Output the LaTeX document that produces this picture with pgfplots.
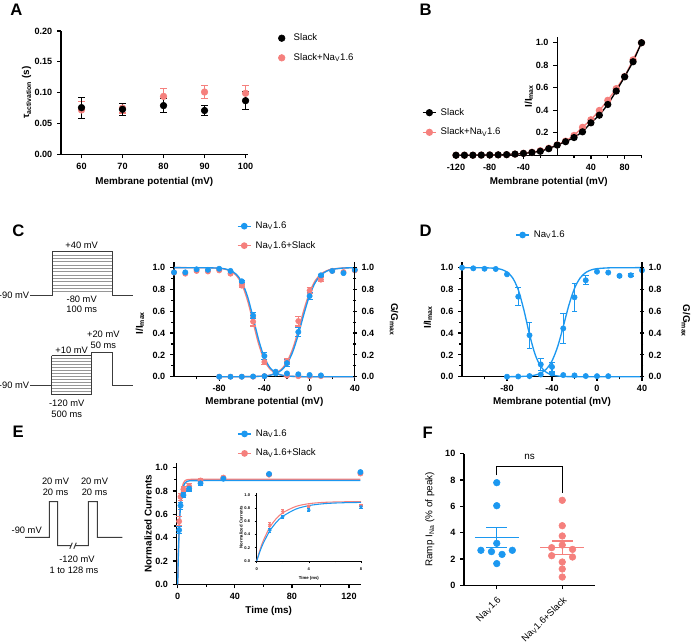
\documentclass[border=0pt]{standalone}
\usepackage{fontspec}
\setmainfont{Liberation Sans}
\usepackage{pgfplots}
\pgfplotsset{compat=1.18}
\definecolor{cblue}{RGB}{28,152,240}
\definecolor{cpink}{RGB}{245,128,125}
\definecolor{pgray}{RGB}{60,60,60}
\definecolor{lgray}{RGB}{150,150,150}
\newcommand{\tfont}{\bfseries\fontsize{6.8}{7.5}\selectfont}
\newcommand{\lfont}{\bfseries\fontsize{7.4}{8.5}\selectfont}
\newcommand{\gfont}{\fontsize{7.2}{8.5}\selectfont}
\newcommand{\pfont}{\fontsize{7}{8}\selectfont}
\newcommand{\ifont}{\bfseries\fontsize{3.2}{3.8}\selectfont}
\newcommand{\Nav}{Na\textsubscript{V}1.6}
\pgfplotsset{
  noarrow/.style={axis line style={-, line width=1pt, black},
    every inner x axis line/.append style={-},
    every inner y axis line/.append style={-},
    every outer x axis line/.append style={-},
    every outer y axis line/.append style={-}},
  gp/.style={scale only axis, clip=false, anchor=south west,
    axis x line=bottom, axis y line=left, noarrow,
    tick style={black, line width=0.9pt},
    tick align=outside, major tick length=3pt, minor tick length=2pt,
    tick label style={font=\tfont},
    label style={font=\lfont},
    /pgf/number format/assume math mode=true,
    legend style={draw=none, fill=none, inner sep=0pt, outer sep=0pt, font=\gfont,
      row sep=5pt, anchor=west, nodes={inner sep=1.5pt},
      /tikz/every odd column/.append style={column sep=1.5pt}},
    legend cell align=left,
    legend image code/.code={\draw[mark repeat=2,mark phase=2,##1] plot coordinates {(0pt,0pt) (5pt,0pt) (10pt,0pt)};},
  },
  xl/.style={every axis x label/.style={at={(axis description cs:0.5,#1)}, anchor=center, font=\lfont}},
  yl/.style 2 args={every axis y label/.style={at={(axis description cs:#1,#2)}, anchor=center, rotate=90, font=\lfont}},
  yr/.style 2 args={every axis y label/.style={at={(axis description cs:#1,#2)}, anchor=center, rotate=-90, font=\lfont}},
  eb/.style={error bars/y dir=both, error bars/y explicit, error bars/error bar style={line width=0.8pt, solid}, error bars/error mark options={rotate=90, mark size=#1, line width=0.8pt}},
  prec1/.style={yticklabel style={/pgf/number format/.cd, fixed, fixed zerofill, precision=1}},
  proto/.style={pgray, line width=0.75pt, unbounded coords=jump},
  protoin/.style={lgray, line width=0.5pt, unbounded coords=jump},
}
\begin{document}
\begin{tikzpicture}
% ---------- canvas for annotations (pixel coordinates) ----------
\begin{axis}[at={(0pt,0pt)}, anchor=north west, scale only axis, width=519pt, height=482.25pt,
  xmin=0, xmax=692, ymin=0, ymax=643, y dir=reverse, hide axis, clip=false]
% panel letters
\node[font=\bfseries\fontsize{12.5}{14}\selectfont] at (axis cs:16.5,9.5) {A};
\node[font=\bfseries\fontsize{12.5}{14}\selectfont] at (axis cs:425.7,9.5) {B};
\node[font=\bfseries\fontsize{12.5}{14}\selectfont] at (axis cs:18.3,231) {C};
\node[font=\bfseries\fontsize{12.5}{14}\selectfont] at (axis cs:425.7,231) {D};
\node[font=\bfseries\fontsize{12.5}{14}\selectfont] at (axis cs:18.3,431.5) {E};
\node[font=\bfseries\fontsize{12.5}{14}\selectfont] at (axis cs:427.8,433) {F};
% protocol C top
\addplot[protoin] coordinates {(52,291.67) (112,291.67) (nan,nan) (52,288.33) (112,288.33) (nan,nan) (52,285) (112,285) (nan,nan) (52,281.67) (112,281.67) (nan,nan) (52,278.33) (112,278.33) (nan,nan) (52,275) (112,275) (nan,nan) (52,271.67) (112,271.67) (nan,nan) (52,268.33) (112,268.33) (nan,nan) (52,265) (112,265) (nan,nan) (52,261.67) (112,261.67) (nan,nan) (52,258.33) (112,258.33) (nan,nan) (52,255) (112,255)};
\addplot[proto] coordinates {(30,295) (52,295) (52,251.67) (112,251.67) (112,295) (133,295)};
\node[font=\pfont, anchor=east, inner sep=0.5pt] at (axis cs:30,295) {-90 mV};
\node[font=\pfont, inner sep=0pt] at (axis cs:81.7,245.7) {+40 mV};
\node[font=\pfont, inner sep=0pt] at (axis cs:81.7,299.3) {-80 mV};
\node[font=\pfont, inner sep=0pt] at (axis cs:81.7,309.7) {100 ms};
% protocol C bottom
\addplot[protoin] coordinates {(51.7,391.7) (91.7,391.7) (nan,nan) (51.7,388.7) (91.7,388.7) (nan,nan) (51.7,385.7) (91.7,385.7) (nan,nan) (51.7,382.7) (91.7,382.7) (nan,nan) (51.7,379.7) (91.7,379.7) (nan,nan) (51.7,376.7) (91.7,376.7) (nan,nan) (51.7,373.7) (91.7,373.7) (nan,nan) (51.7,370.7) (91.7,370.7) (nan,nan) (51.7,367.7) (91.7,367.7) (nan,nan) (51.7,364.7) (91.7,364.7) (nan,nan) (51.7,361.7) (91.7,361.7) (nan,nan) (51.7,358.7) (91.7,358.7)};
\addplot[proto] coordinates {(30,385.7) (51.7,385.7) (nan,nan) (51.7,355.7) (51.7,394.7) (91.7,394.7) (nan,nan) (51.7,355.7) (91.7,355.7) (nan,nan) (91.7,394.7) (91.7,352.7) (112,352.7) (112,385.7) (133,385.7)};
\node[font=\pfont, anchor=east, inner sep=0.5pt] at (axis cs:30,385.7) {-90 mV};
\node[font=\pfont, inner sep=0pt] at (axis cs:71.7,350.2) {+10 mV};
\node[font=\pfont, inner sep=0pt] at (axis cs:103.3,334.3) {+20 mV};
\node[font=\pfont, inner sep=0pt] at (axis cs:103.3,345.7) {50 ms};
\node[font=\pfont, inner sep=0pt] at (axis cs:66.7,403.3) {-120 mV};
\node[font=\pfont, inner sep=0pt] at (axis cs:66.7,414.3) {500 ms};
% protocol E
\addplot[proto] coordinates {(25,537.3) (49.3,537.3) (49.3,501.7) (57.7,501.7) (57.7,545.7) (71.3,545.7) (nan,nan) (75.3,545.7) (88.3,545.7) (88.3,501.7) (97.3,501.7) (97.3,537.3) (122.3,537.3) (nan,nan) (69.8,548.7) (72.3,542.7) (nan,nan) (73.8,548.7) (76.3,542.7)};
\node[font=\pfont, inner sep=0pt] at (axis cs:55.5,481.7) {20 mV};
\node[font=\pfont, inner sep=0pt] at (axis cs:55.5,492.3) {20 ms};
\node[font=\pfont, inner sep=0pt] at (axis cs:94.5,481.7) {20 mV};
\node[font=\pfont, inner sep=0pt] at (axis cs:94.5,492.3) {20 ms};
\node[font=\pfont, inner sep=0pt] at (axis cs:26.7,530) {-90 mV};
\node[font=\pfont, inner sep=0pt] at (axis cs:77,559.3) {-120 mV};
\node[font=\pfont, inner sep=0pt] at (axis cs:74,570.7) {1 to 128 ms};
\end{axis}

% ---------- A ----------
\begin{axis}[gp, at={(45.75pt,-115.725pt)}, width=139.95pt, height=92.475pt,
  xmin=55, xmax=100.5, ymin=0, ymax=0.2,
  xtick={60,70,80,90,100}, ytick={0,0.05,0.1,0.15,0.2},
  yticklabel style={/pgf/number format/.cd, fixed, fixed zerofill, precision=2},
  xlabel={Membrane potential (mV)}, ylabel={τ\textsubscript{activation} (s)},
  xl=-0.222, yl={-0.184}{0.5},
  legend style={at={(axis description cs:1.165,0.862)}, /tikz/every odd column/.append style={column sep=5pt}}]
\addlegendimage{only marks, mark=*, black, mark size=2.5pt}
\addlegendentry{Slack}
\addlegendimage{only marks, mark=*, cpink, mark size=2.5pt}
\addlegendentry{Slack+\Nav}
\addplot[cpink, only marks, mark=*, mark size=2.5pt, eb=2.5pt, forget plot] coordinates {
 (60,0.072) +- (0,0.014) (70,0.075) +- (0,0.008) (80,0.094) +- (0,0.013) (90,0.101) +- (0,0.011) (100,0.099) +- (0,0.013)};
\addplot[black, only marks, mark=*, mark size=2.5pt, eb=2.5pt, forget plot] coordinates {
 (60,0.0757) +- (0,0.017) (70,0.073) +- (0,0.010) (80,0.079) +- (0,0.011) (90,0.071) +- (0,0.008) (100,0.087) +- (0,0.015)};
\end{axis}

% ---------- B ----------
\begin{axis}[gp, at={(342pt,-116.4pt)}, width=139.125pt, height=88.575pt,
  xmin=-120, xmax=100, ymin=0, ymax=1.05,
  axis y line=middle, noarrow, tick align=outside,
  xtick={-120,-80,-40,40,80}, minor xtick={-100,-60,-20,20,60,100},
  ytick={0.2,0.4,0.6,0.8,1}, prec1,
  xlabel={Membrane potential (mV)}, ylabel={I/I\textsubscript{max}},
  xl=-0.224, yl={0.3935}{0.501},
  legend style={at={(axis description cs:-0.183,0.277)}}]
\addlegendimage{black, mark=*, mark size=2.2pt, line width=1pt}
\addlegendentry{Slack}
\addlegendimage{cpink, mark=*, mark size=2.2pt, line width=1pt}
\addlegendentry{Slack+\Nav}
\addplot[cpink, mark=*, mark size=2.2pt, line width=1pt, forget plot] coordinates {
 (-120,0) (-110,0) (-100,0) (-90,0.001) (-80,0.002) (-70,0.003) (-60,0.005) (-50,0.01) (-40,0.017) (-30,0.026) (-20,0.04) (-10,0.062) (0,0.092) (10,0.125) (20,0.176) (30,0.248) (40,0.315) (50,0.398) (60,0.488) (70,0.592) (80,0.70) (90,0.848) (100,1.0)};
\addplot[black, mark=*, mark size=2.2pt, line width=1pt, forget plot] coordinates {
 (-120,0) (-110,0) (-100,0) (-90,0.001) (-80,0.002) (-70,0.003) (-60,0.005) (-50,0.01) (-40,0.016) (-30,0.024) (-20,0.035) (-10,0.058) (0,0.09) (10,0.12) (20,0.157) (30,0.208) (40,0.288) (50,0.356) (60,0.451) (70,0.570) (80,0.697) (90,0.831) (100,1.0)};
\end{axis}

% ---------- C ----------
\begin{axis}[gp, at={(130.5pt,-282.525pt)}, width=135.6pt, height=85.875pt,
  xmin=-120, xmax=40, ymin=0, ymax=1.05,
  xtick={-80,-40,0,40}, minor xtick={-100,-60,-20,20},
  ytick={0,0.2,0.4,0.6,0.8,1}, minor y tick num=1, prec1,
  xlabel={Membrane potential (mV)}, ylabel={I/I\textsubscript{max}},
  xl=-0.2236, yl={-0.188}{0.47},
  legend style={at={(axis description cs:0.348,1.229)}}]
\addlegendimage{cblue, mark=*, mark size=2pt, line width=1pt}
\addlegendentry{\Nav}
\addlegendimage{cpink, mark=*, mark size=2pt, line width=1pt}
\addlegendentry{\Nav+Slack}
\addplot[cpink, line width=1pt, smooth, forget plot] coordinates {(-120,1) (-100,0.9998) (-90,0.999) (-80,0.9942) (-75,0.9864) (-70,0.9687) (-65,0.9301) (-60,0.8499) (-55,0.7027) (-50,0.5) (-45,0.2973) (-40,0.1501) (-35,0.0699) (-30,0.0313) (-25,0.0136) (-20,0.0058) (-10,0.001) (0,0.0002) (40,0)};
\addplot[cpink, line width=1pt, smooth, forget plot] coordinates {(-80,0.0001) (-60,0.0003) (-50,0.0016) (-40,0.0072) (-35,0.0155) (-30,0.0328) (-25,0.0682) (-20,0.1364) (-15,0.2541) (-10,0.4237) (-5,0.6134) (0,0.774) (5,0.8808) (10,0.941) (15,0.9717) (20,0.9867) (30,0.9971) (40,0.9994)};
\addplot[cblue, line width=1pt, smooth, forget plot] coordinates {(-120,1) (-100,0.9997) (-90,0.9991) (-80,0.9953) (-75,0.9888) (-70,0.9739) (-65,0.9404) (-60,0.8695) (-55,0.7377) (-50,0.543) (-45,0.3341) (-40,0.1748) (-35,0.0821) (-30,0.0364) (-25,0.0157) (-20,0.0067) (-10,0.0012) (0,0.0002) (40,0)};
\addplot[cblue, line width=1pt, smooth, forget plot] coordinates {(-80,0.0001) (-60,0.0003) (-50,0.0013) (-40,0.0062) (-35,0.0133) (-30,0.0282) (-25,0.059) (-20,0.1192) (-15,0.226) (-10,0.3867) (-5,0.5763) (0,0.7459) (5,0.8636) (10,0.9319) (15,0.9672) (20,0.9845) (30,0.9966) (40,0.9993)};
% pink points
\addplot[cpink, only marks, mark=*, mark size=2pt, forget plot] coordinates {(-120,0.955) (-110,0.945) (-100,0.97) (-90,0.965) (-80,0.975) (-30,0.035) (-20,0.01) (-10,0.005) (0,0.005) (10,0.005)
 (-80,0) (-70,0) (-60,0) (-50,0) (-40,0.005) (-30,0.04) (20,0.97) (30,0.96) (40,0.975)};
\addplot[cpink, only marks, mark=*, mark size=2pt, eb=2.2pt, forget plot] coordinates {(-70,0.945) +- (0,0.01) (-60,0.835) +- (0,0.015) (-50,0.505) +- (0,0.04) (-40,0.135) +- (0,0.02)
 (-20,0.14) +- (0,0.03) (-10,0.51) +- (0,0.045) (0,0.79) +- (0,0.03) (10,0.89) +- (0,0.02)};
% blue points
\addplot[cblue, only marks, mark=*, mark size=2pt, forget plot] coordinates {(-120,0.957) (-110,0.957) (-100,0.985) (-90,0.98) (-80,0.99) (-70,0.97) (-30,0.046) (-20,0.03) (-10,0.022) (0,0.016) (10,0.012)
 (-80,0) (-70,0) (-60,0) (-50,0.002) (-40,0.005) (-30,0.03) (20,0.97) (30,0.95) (40,0.98)};
\addplot[cblue, only marks, mark=*, mark size=2pt, eb=2.2pt, forget plot] coordinates {(-60,0.875) +- (0,0.01) (-50,0.56) +- (0,0.03) (-40,0.19) +- (0,0.03)
 (-20,0.125) +- (0,0.03) (-10,0.41) +- (0,0.04) (0,0.74) +- (0,0.03) (10,0.93) +- (0,0.01)};
\end{axis}
\begin{axis}[gp, at={(130.5pt,-282.525pt)}, width=135.6pt, height=85.875pt,
  xmin=-120, xmax=40, ymin=0, ymax=1.05,
  axis x line=none, axis y line=right, noarrow,
  ytick={0,0.2,0.4,0.6,0.8,1}, minor y tick num=1, prec1,
  ylabel={G/G\textsubscript{max}}, yr={1.217}{0.5}]
\addplot[draw=none, forget plot] coordinates {(0,0)};
\end{axis}

% ---------- D ----------
\begin{axis}[gp, at={(346.5pt,-282.525pt)}, width=135pt, height=85.875pt,
  xmin=-120, xmax=40, ymin=0, ymax=1.05,
  xtick={-80,-40,0,40}, minor xtick={-100,-60,-20,20},
  ytick={0,0.2,0.4,0.6,0.8,1}, minor y tick num=1, prec1,
  xlabel={Membrane potential (mV)}, ylabel={I/I\textsubscript{max}},
  xl=-0.2236, yl={-0.189}{0.52},
  legend style={at={(axis description cs:0.296,1.2376)}}]
\addlegendimage{cblue, mark=*, mark size=2pt, line width=1pt}
\addlegendentry{\Nav}
\addplot[cblue, line width=1pt, smooth, forget plot] coordinates {(-120,1) (-100,0.9989) (-90,0.9933) (-85,0.9836) (-80,0.9602) (-75,0.9066) (-70,0.7964) (-65,0.6117) (-60,0.3883) (-55,0.2036) (-50,0.0934) (-45,0.0398) (-40,0.0165) (-35,0.0067) (-30,0.0027) (-20,0.0004) (40,0)};
\addplot[cblue, line width=1pt, smooth, forget plot] coordinates {(-80,0.0002) (-70,0.0013) (-60,0.0067) (-55,0.0149) (-50,0.0327) (-45,0.0704) (-40,0.145) (-35,0.2753) (-30,0.4598) (-25,0.6559) (-20,0.8102) (-15,0.9053) (-10,0.9555) (-5,0.9796) (0,0.9908) (10,0.9981) (20,0.9996) (40,1)};
\addplot[cblue, only marks, mark=*, mark size=2pt, forget plot] coordinates {(-120,1.0) (-110,0.994) (-100,0.99) (-90,0.988) (-80,0.939) (-30,0.015) (-20,0.012) (-10,0.006) (0,0.005) (10,0.005)
 (-80,0) (-70,0.002) (-60,0.006) (-50,0.02) (0,0.963) (10,0.955) (40,0.976)};
\addplot[cblue, only marks, mark=*, mark size=2pt, eb=2.2pt, forget plot] coordinates {(-70,0.734) +- (0,0.084) (-60,0.38) +- (0,0.12) (-50,0.113) +- (0,0.053) (-40,0.03) +- (0,0.01)
 (-40,0.09) +- (0,0.04) (-30,0.443) +- (0,0.135) (-20,0.728) +- (0,0.13) (-10,0.884) +- (0,0.04) (20,0.925) +- (0,0.015) (30,0.93) +- (0,0.015)};
\end{axis}
\begin{axis}[gp, at={(346.5pt,-282.525pt)}, width=135pt, height=85.875pt,
  xmin=-120, xmax=40, ymin=0, ymax=1.05,
  axis x line=none, axis y line=right, noarrow,
  ytick={0,0.2,0.4,0.6,0.8,1}, minor y tick num=1, prec1,
  ylabel={G/G\textsubscript{max}}, yr={1.244}{0.485}]
\addplot[draw=none, forget plot] coordinates {(0,0)};
\end{axis}

% ---------- E ----------
\begin{axis}[gp, at={(132.525pt,-438.225pt)}, width=138pt, height=90.975pt,
  xmin=-0.7, xmax=128.2, ymin=0, ymax=1.04,
  xtick={0,40,80,120}, minor xtick={20,60,100},
  ytick={0,0.2,0.4,0.6,0.8,1}, minor y tick num=1, prec1,
  xlabel={Time (ms)}, ylabel={Normalized Currents},
  xl=-0.22, yl={-0.156}{0.5},
  legend style={at={(axis description cs:0.329,1.159)}}]
\addlegendimage{cblue, mark=*, mark size=2pt, line width=1pt}
\addlegendentry{\Nav}
\addlegendimage{cpink, mark=*, mark size=2pt, line width=1pt}
\addlegendentry{\Nav+Slack}
\addplot[cpink, line width=1pt, forget plot] coordinates {(0,0) (0.25,0.1692) (0.5,0.3067) (1,0.5089) (1.5,0.6422) (2,0.73) (3,0.8261) (4,0.8679) (5,0.8861) (6,0.894) (7,0.8974) (8,0.8989) (10,0.8998) (128,0.9)};
\addplot[cblue, line width=1pt, forget plot] coordinates {(0,0) (0.25,0.1456) (0.5,0.2673) (1,0.4543) (1.5,0.5851) (2,0.6767) (3,0.7856) (4,0.8389) (5,0.865) (6,0.8778) (7,0.884) (8,0.8871) (10,0.8893) (128,0.89)};
\addplot[cpink, only marks, mark=*, mark size=2pt, eb=2pt, forget plot] coordinates {(1,0.54) +- (0,0.04) (2,0.75) +- (0,0.03) (4,0.815) +- (0,0.02) (8,0.84) +- (0,0.025) (16,0.89) +- (0,0.02) (32,0.915) +- (0,0.01) (64,0.94) +- (0,0.005) (128,0.95) +- (0,0.005)};
\addplot[cblue, only marks, mark=*, mark size=2pt, eb=2pt, forget plot] coordinates {(1,0.465) +- (0,0.03) (2,0.675) +- (0,0.03) (4,0.765) +- (0,0.02) (8,0.82) +- (0,0.02) (16,0.866) +- (0,0.015) (32,0.905) +- (0,0.01) (64,0.946) +- (0,0.005) (128,0.962) +- (0,0.005)};
\end{axis}
% inset
\begin{axis}[gp, at={(192.525pt,-420.75pt)}, width=78.225pt, height=50.775pt,
  xmin=0, xmax=8, ymin=0, ymax=1.025,
  xtick={0,4,8}, minor xtick={2,6}, ytick={0,0.2,0.4,0.6,0.8,1}, prec1,
  tick label style={font=\bfseries\fontsize{3}{3.5}\selectfont},
  tick style={line width=0.5pt}, major tick length=1.5pt, minor tick length=1pt,
  axis line style={line width=0.6pt},
  xlabel={Time (ms)}, ylabel={Normalized Currents},
  xl=-0.25, yl={-0.15}{0.5},
  xlabel style={font=\ifont}, ylabel style={font=\ifont}]
\addplot[cpink, line width=0.8pt, smooth, forget plot] coordinates {(0,0) (0.25,0.1692) (0.5,0.3067) (1,0.5089) (1.5,0.6422) (2,0.73) (3,0.8261) (4,0.8679) (5,0.8861) (6,0.894) (7,0.8974) (8,0.8989)};
\addplot[cblue, line width=0.8pt, smooth, forget plot] coordinates {(0,0) (0.25,0.1456) (0.5,0.2673) (1,0.4543) (1.5,0.5851) (2,0.6767) (3,0.7856) (4,0.8389) (5,0.865) (6,0.8778) (7,0.884) (8,0.8871)};
\addplot[cpink, only marks, mark=*, mark size=1.1pt, eb=1.2pt, forget plot] coordinates {(1,0.55) +- (0,0.03) (2,0.75) +- (0,0.025) (4,0.83) +- (0,0.015) (8,0.84) +- (0,0.02)};
\addplot[cblue, only marks, mark=*, mark size=1.1pt, eb=1.2pt, forget plot] coordinates {(1,0.465) +- (0,0.03) (2,0.67) +- (0,0.025) (4,0.77) +- (0,0.02) (8,0.82) +- (0,0.02)};
\end{axis}

% ---------- F ----------
\begin{axis}[gp, at={(348pt,-438.975pt)}, width=98.25pt, height=98.7pt,
  xmin=-0.5, xmax=1.5, ymin=0, ymax=10,
  xtick={0,1}, xticklabels={{Na\textsubscript{V}1.6},{Na\textsubscript{V}1.6+Slack}},
  xticklabel style={rotate=45, anchor=north east, font=\fontsize{7.1}{8}\selectfont},
  ytick={0,2,4,6,8,10},
  ylabel={Ramp I\textsubscript{Na} (\% of peak)}, yl={-0.26}{0.5},
  ylabel style={font=\fontsize{7.4}{8.5}\selectfont}]
\addplot[cblue, only marks, mark=*, mark size=2.5pt] coordinates {(0,7.8) (0,6.05) (0,3.19) (-0.242,2.66) (-0.081,2.56) (0.081,2.35) (0.238,2.66) (0,1.65)};
\addplot[cblue, line width=1.1pt] coordinates {(-0.333,3.62) (0.333,3.62)};
\addplot[cblue, line width=1.1pt, unbounded coords=jump] coordinates {(-0.16,4.38) (0.16,4.38) (nan,nan) (0,4.38) (0,2.86) (nan,nan) (-0.16,2.86) (0.16,2.86)};
\addplot[cpink, only marks, mark=*, mark size=2.5pt] coordinates {(1,6.46) (1,4.53) (1,3.75) (1,3.06) (0.838,2.86) (1.157,2.73) (0.838,2.25) (1.157,2.15) (1,1.77) (1,1.24) (1,0.63)};
\addplot[cpink, line width=1.1pt] coordinates {(0.667,2.86) (1.333,2.86)};
\addplot[cpink, line width=1.1pt, unbounded coords=jump] coordinates {(0.84,3.37) (1.16,3.37) (nan,nan) (1,3.37) (1,2.35) (nan,nan) (0.84,2.35) (1.16,2.35)};
\addplot[black, line width=0.9pt] coordinates {(0,8.35) (0,9.0) (1,9.0) (1,7.04)};
\node[font=\fontsize{7.4}{8.5}\selectfont] at (axis cs:0.5,9.77) {ns};
\end{axis}

\pgfresetboundingbox
\path[use as bounding box] (0pt,0pt) rectangle (519pt,-482.25pt);
\end{tikzpicture}
\end{document}
